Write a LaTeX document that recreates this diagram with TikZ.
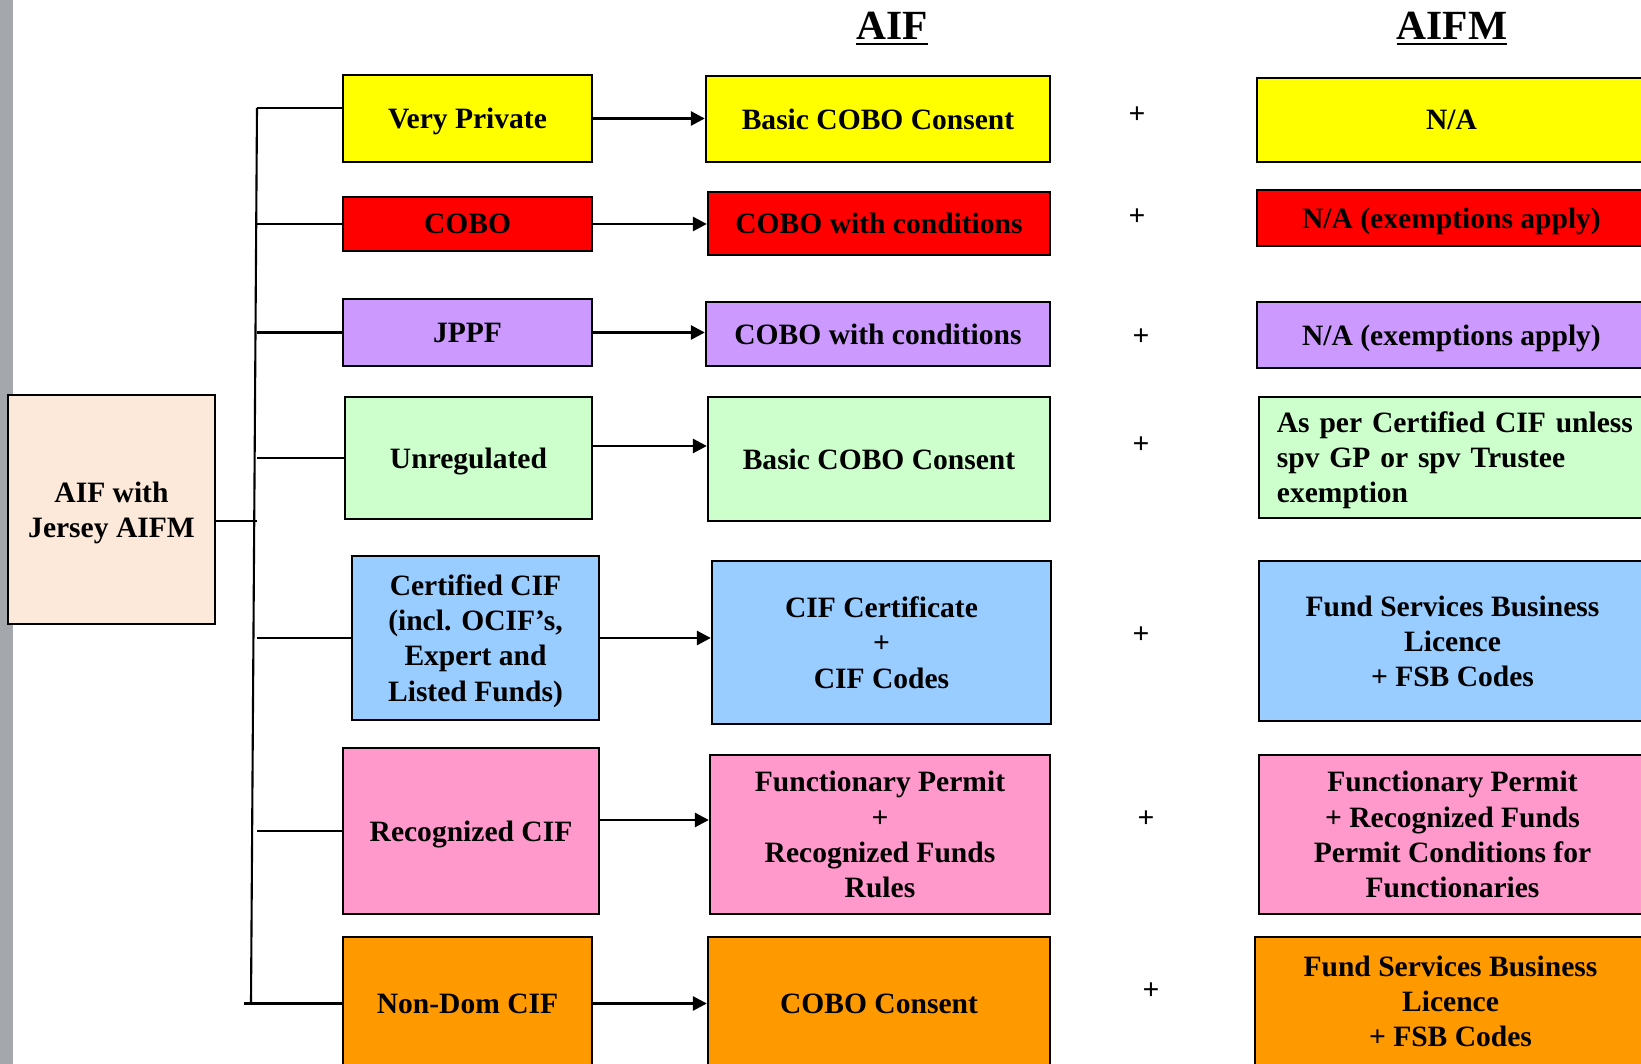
\documentclass[tikz,border=0pt]{standalone}
\usepackage{fontspec}
\setmainfont{Liberation Serif}
\usepackage{tikz}
\usetikzlibrary{arrows.meta,positioning}
\definecolor{vpyellow}{HTML}{FFFF00}
\definecolor{cobored}{HTML}{FF0000}
\definecolor{jppfpurple}{HTML}{CC99FF}
\definecolor{unreggreen}{HTML}{CCFFCC}
\definecolor{cifblue}{HTML}{99CCFF}
\definecolor{recpink}{HTML}{FF99CC}
\definecolor{nondomorange}{HTML}{FF9900}
\definecolor{aifpeach}{HTML}{FDE9D9}
\definecolor{sidegrey}{HTML}{A4A7AB}

\begin{document}
\begin{tikzpicture}[x=0.01cm,y=-0.01cm,
  box/.style={draw,line width=0.6pt,align=center,inner sep=0pt,text depth=0pt,
    font=\fontsize{8.4}{10}\selectfont\bfseries},
  link/.style={line width=0.6pt},
  arr/.style={line width=0.8pt,-{Triangle[length=4pt,width=4pt]}},
  plus/.style={font=\fontsize{8.4}{10}\selectfont\bfseries},
  coltitle/.style={font=\fontsize{11.8}{13}\selectfont\bfseries}]
  \clip (0,0) rectangle (1641,1064);
  \fill[sidegrey] (0,0) rectangle (13,1064);

  % Column titles
  \node[coltitle] (taif) at (892,29) {\underline{AIF}};
  \node[coltitle] (taifm) at (1452,29) {\underline{AIFM}};

  % Root box
  \node[box,fill=aifpeach,minimum width=2.07cm,minimum height=2.29cm] (aif)
    at (111.5,509.5) {AIF with\\Jersey AIFM};

  % Fund types
  \node[box,fill=vpyellow,minimum width=2.49cm,minimum height=0.87cm] (vp)
    at (467.5,118.5) {Very Private};
  \node[box,fill=cobored,minimum width=2.49cm,minimum height=0.54cm] (cobo)
    at (467.5,224) {COBO};
  \node[box,fill=jppfpurple,minimum width=2.49cm,minimum height=0.67cm] (jppf)
    at (467.5,332.5) {JPPF};
  \node[box,fill=unreggreen,minimum width=2.47cm,minimum height=1.22cm] (unreg)
    at (468.5,458) {Unregulated};
  \node[box,fill=cifblue,minimum width=2.47cm,minimum height=1.64cm] (cert)
    at (475.5,638) {Certified CIF\\(incl. OCIF’s,\\Expert and\\Listed Funds)};
  \node[box,fill=recpink,minimum width=2.56cm,minimum height=1.66cm] (recog)
    at (471,831) {Recognized CIF};
  \node[box,fill=nondomorange,minimum width=2.49cm,minimum height=1.33cm] (nondom)
    at (467.5,1003.5) {Non-Dom CIF};

  % AIF column
  \node[box,fill=vpyellow,minimum width=3.44cm,minimum height=0.86cm] (bcc1)
    at (878,119) {Basic COBO Consent};
  \node[box,fill=cobored,minimum width=3.42cm,minimum height=0.63cm] (cwc1)
    at (879,223.5) {COBO with conditions};
  \node[box,fill=jppfpurple,minimum width=3.44cm,minimum height=0.64cm] (cwc2)
    at (878,334) {COBO with conditions};
  \node[box,fill=unreggreen,minimum width=3.42cm,minimum height=1.24cm] (bcc2)
    at (879,459) {Basic COBO Consent};
  \node[box,fill=cifblue,minimum width=3.39cm,minimum height=1.63cm] (cifc)
    at (881.5,642.5) {CIF Certificate\\+\\CIF Codes};
  \node[box,fill=recpink,minimum width=3.40cm,minimum height=1.59cm] (fpr)
    at (880,834.5) {Functionary Permit\\+\\Recognized Funds\\Rules};
  \node[box,fill=nondomorange,minimum width=3.42cm,minimum height=1.33cm] (cc)
    at (879,1003.5) {COBO Consent};

  % AIFM column
  \node[box,fill=vpyellow,minimum width=3.89cm,minimum height=0.84cm] (na1)
    at (1451.5,120) {N/A};
  \node[box,fill=cobored,minimum width=3.89cm,minimum height=0.56cm] (na2)
    at (1451.5,218) {N/A (exemptions apply)};
  \node[box,fill=jppfpurple,minimum width=3.89cm,minimum height=0.66cm] (na3)
    at (1451.5,335) {N/A (exemptions apply)};
  \node[box,fill=unreggreen,minimum height=1.21cm,inner xsep=0.18cm,
    text width=3.8cm,text depth=0.71cm,align=left] (asper)
    at (1467,457.5) {As per Certified CIF unless\\spv GP or spv Trustee\\exemption};
  \node[box,fill=cifblue,minimum width=3.87cm,minimum height=1.60cm] (fsb1)
    at (1452.5,641) {Fund Services Business\\Licence\\+ FSB Codes};
  \node[box,fill=recpink,minimum width=3.87cm,minimum height=1.59cm] (fpc)
    at (1452.5,834.5) {Functionary Permit\\+ Recognized Funds\\Permit Conditions for\\Functionaries};
  \node[box,fill=nondomorange,minimum width=3.91cm,minimum height=1.29cm] (fsb2)
    at (1450.5,1001.5) {Fund Services Business\\Licence\\+ FSB Codes};

  % Plus signs
  \node[plus] (p1) at (1137,115) {+};
  \node[plus] (p2) at (1137,217) {+};
  \node[plus] (p3) at (1141,337) {+};
  \node[plus] (p4) at (1141,445) {+};
  \node[plus] (p5) at (1141,635) {+};
  \node[plus] (p6) at (1146,819) {+};
  \node[plus] (p7) at (1151,991) {+};

  % Tree lines
  \coordinate (trunktop) at (257,108);
  \coordinate (trunkbot) at (251,1003);
  \draw[link] (trunktop) -- (trunkbot);
  \draw[link] ([yshift=-0.115cm]aif.east) -- ([yshift=-0.115cm]aif.east -| trunktop);
  \draw[link] ([yshift=0.105cm]vp.west -| trunktop) -- ([yshift=0.105cm]vp.west);
  \foreach \n in {cobo,jppf,unreg,cert,recog}
    \draw[link] (\n.west -| trunktop) -- (\n.west);
  \draw[link] ([xshift=-2pt]nondom.west -| trunkbot) -- (nondom.west);

  % Arrows
  \draw[arr] (vp.east) -- (vp.east -| bcc1.west);
  \draw[arr] (cobo.east) -- (cobo.east -| cwc1.west);
  \draw[arr] (jppf.east) -- (jppf.east -| cwc2.west);
  \draw[arr] ([yshift=0.12cm]unreg.east) -- ([yshift=0.12cm]unreg.east -| bcc2.west);
  \draw[arr] (cert.east) -- (cert.east -| cifc.west);
  \draw[arr] ([yshift=0.11cm]recog.east) -- ([yshift=0.11cm]recog.east -| fpr.west);
  \draw[arr] (nondom.east) -- (nondom.east -| cc.west);
\end{tikzpicture}
\end{document}
